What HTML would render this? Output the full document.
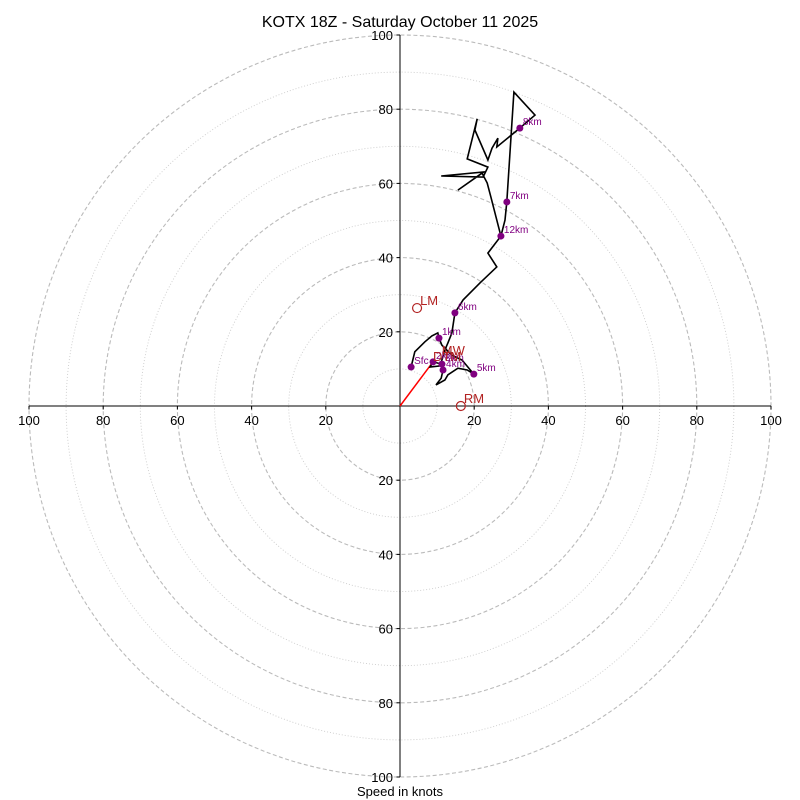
<!DOCTYPE html>
<html><head><meta charset="utf-8"><style>
html,body{margin:0;padding:0;background:#fff;}
svg{display:block;font-family:"Liberation Sans","DejaVu Sans",sans-serif;}
</style></head><body>
<svg id="chart" width="800" height="800" viewBox="0 0 800 800">
<text x="400" y="27" text-anchor="middle" font-size="16">KOTX 18Z - Saturday October 11 2025</text>
<text x="400" y="796" text-anchor="middle" font-size="13">Speed in knots</text>
<g id="rings"></g><g id="axes"></g><g id="trace"></g><g id="marks"></g>
</svg>
<script>
const ringValues=[10,20,30,40,50,60,70,80,90,100];
const tickValues=[20,40,60,80,100];
const traceU=[3.0,4.0,6.7,8.6,10.2,10.5,11.3,14.0,16.7,19.9,18.1,15.6,12.9,12.1,9.7,11.1,11.6,11.3,8.9,8.1,10.8,12.1,12.9,14.0,14.8,17.0,21.6,26.1,23.7,27.2,24.5,23.5,22.1,15.6,22.6,11.1,22.4,23.7,18.1,20.8,20.2,23.7,24.8,26.4,26.1,32.3,36.4,30.7,28.8,28.3,27.2];
const traceV=[10.5,14.6,17.3,18.9,19.7,18.3,16.4,13.7,12.4,8.6,9.7,10.2,8.4,7.0,5.7,7.5,9.7,11.3,11.9,10.5,10.8,15.1,17.0,19.7,25.1,28.6,33.2,37.5,41.2,45.8,56.3,60.1,62.8,58.2,63.1,62.0,61.7,64.4,66.6,77.4,74.4,66.3,69.5,72.2,69.8,74.9,78.4,84.6,55.0,50.1,45.8];
const dotLabels=["Sfc","1km","2km","3km","4km","5km","6km","7km","8km","12km"];
const dotU=[3.0,10.5,8.9,11.3,11.6,19.9,14.8,28.8,32.3,27.2];
const dotV=[10.5,18.3,11.9,11.3,9.7,8.6,25.1,55.0,74.9,45.8];
const motionLabels=["LM","RM"];
const motionU=[4.6,16.4];
const motionV=[26.4,0.0];
const mwU=[11.8], mwV=[13.5];
const dtmU=[8.9], dtmV=[11.9];

const cx=400,cy=406,k=3.71;
const X=u=>cx+u*k, Y=v=>cy-v*k;
const NS="http://www.w3.org/2000/svg";
function mk(tag,parent,attrs){const e=document.createElementNS(NS,tag);for(const a in attrs)e.setAttribute(a,attrs[a]);parent.appendChild(e);return e;}
const rings=document.getElementById('rings'),axes=document.getElementById('axes'),trace=document.getElementById('trace'),marks=document.getElementById('marks');
ringValues.forEach(r=>{
  const major=r%20===0;
  const c=mk('circle',rings,{cx:cx,cy:cy,r:r*k,fill:'none',stroke:major?'#bbb':'#ccc','stroke-width':major?1.1:0.9,'stroke-dasharray':major?'4,2.5':'1,2'});
  
  
});
let l=mk('line',axes,{x1:X(-100),y1:cy,x2:X(100),y2:cy,stroke:'#000','stroke-width':1});


l=mk('line',axes,{x1:cx,y1:Y(100),x2:cx,y2:Y(-100),stroke:'#000','stroke-width':1});


tickValues.forEach(t=>{
  [t,-t].forEach(s=>{
    mk('line',axes,{x1:X(s),y1:cy,x2:X(s),y2:cy+3.5,stroke:'#000'});
    const tx=mk('text',axes,{x:X(s),y:cy+19,'text-anchor':'middle','font-size':13});
    tx.textContent=t;
    
    
    mk('line',axes,{x1:cx-3.5,y1:Y(s),x2:cx,y2:Y(s),stroke:'#000'});
    const ty=mk('text',axes,{x:cx-7,y:Y(s)+5,'text-anchor':'end','font-size':13});
    ty.textContent=t;
    
    
  });
});
let p=mk('line',trace,{x1:X(0),y1:Y(0),x2:X(dtmU[0]),y2:Y(dtmV[0]),stroke:'red','stroke-width':1.5});


let d=traceU.map((u,i)=>(i?'L':'M')+X(u).toFixed(1)+','+Y(traceV[i]).toFixed(1)).join(' ');
p=mk('path',trace,{d:d,fill:'none',stroke:'#000','stroke-width':1.6,'stroke-linejoin':'miter'});


dotLabels.forEach((lab,i)=>{
  const c=mk('circle',marks,{cx:X(dotU[i]),cy:Y(dotV[i]),r:3.5,fill:'purple'});
  
  
  const t=mk('text',marks,{x:X(dotU[i])+3,y:Y(dotV[i])-3,'font-size':10,fill:'purple'});
  t.textContent=lab;
  
  
});
motionLabels.forEach((lab,i)=>{
  const c=mk('circle',marks,{cx:X(motionU[i]),cy:Y(motionV[i]),r:4.5,fill:'none',stroke:'#b22222','stroke-width':1.2});
  
  
  const t=mk('text',marks,{x:X(motionU[i])+3,y:Y(motionV[i])-3,'font-size':13,fill:'#b22222'});
  t.textContent=lab;
  
  
});
let t=mk('text',marks,{x:X(mwU[0])-2,y:Y(mwV[0])-1,'font-size':13,fill:'#b22222'});
t.textContent='MW';


t=mk('text',marks,{x:X(dtmU[0]),y:Y(dtmV[0])-1,'font-size':13,fill:'#b22222'});
t.textContent='DTM';


</script>
</body></html>
